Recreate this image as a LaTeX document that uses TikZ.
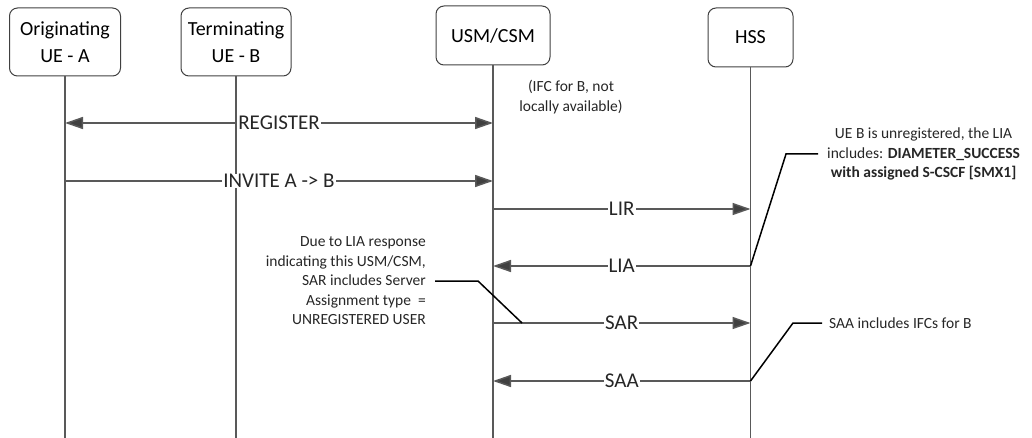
\documentclass[tikz,border=0pt]{standalone}
\usepackage{fontspec}
\setmainfont{Carlito}
\usetikzlibrary{arrows.meta}

\tikzset{
  >={Triangle[length=18pt,width=12pt,fill=black!75]},
  entity/.style={draw=black!75, line width=1pt, rounded corners=8pt, align=center,
    inner sep=0pt, font=\fontsize{20}{27}\selectfont},
  lifeline/.style={draw=black!65, line width=1.5pt},
  msg/.style={lifeline, ->},
  msglabel/.style={fill=white, inner xsep=1pt, inner ysep=0pt, text=black!85,
    font=\fontsize{21}{21}\selectfont},
  note/.style={inner sep=0pt, text=black!85, font=\fontsize{15.5}{19.5}\selectfont},
  leader/.style={draw=black, line width=1.5pt}
}

\begin{document}
\begin{tikzpicture}[x=1pt,y=-1pt]

	\useasboundingbox (0,0) rectangle (1032,438);

	% entities
	\node[entity, minimum width=111pt, minimum height=68pt] (ueA) at (65,42) {Originating\\UE - A};
	\node[entity, minimum width=110pt, minimum height=68pt] (ueB) at (236,42) {Terminating\\UE - B};
	\node[entity, minimum width=114pt, minimum height=59pt] (usm) at (493,35.5) {USM/CSM};
	\node[entity, minimum width=85pt, minimum height=59pt] (hss) at (750.5,37.5) {HSS};

	% lifelines
	\coordinate (ueA-end) at (ueA.south |- 0,438);
	\coordinate (ueB-end) at (ueB.south |- 0,438);
	\coordinate (usm-end) at (usm.south |- 0,438);
	\coordinate (hss-end) at (hss.south |- 0,438);
	\draw[lifeline] (ueA.south) -- (ueA-end);
	\draw[lifeline] (ueB.south) -- (ueB-end);
	\draw[lifeline] (usm.south) -- (usm-end);
	\draw[lifeline] (hss.south) -- (hss-end);

	% message ends
	\coordinate (ueA-reg) at (ueA.south |- 0,123);
	\coordinate (usm-reg) at (usm.south |- 0,123);
	\coordinate (ueA-inv) at (ueA.south |- 0,181);
	\coordinate (usm-inv) at (usm.south |- 0,181);
	\coordinate (usm-lir) at (usm.south |- 0,209);
	\coordinate (hss-lir) at (hss.south |- 0,209);
	\coordinate (usm-lia) at (usm.south |- 0,266);
	\coordinate (hss-lia) at (hss.south |- 0,266);
	\coordinate (usm-sar) at (usm.south |- 0,323);
	\coordinate (hss-sar) at (hss.south |- 0,323);
	\coordinate (usm-saa) at (usm.south |- 0,381);
	\coordinate (hss-saa) at (hss.south |- 0,381);

	% messages
	\draw[msg, <->] (ueA-reg) -- node[msglabel] {REGISTER} (usm-reg);
	\draw[msg] (ueA-inv) -- node[msglabel] {INVITE A -> B} (usm-inv);
	\draw[msg] (usm-lir) -- node[msglabel] {LIR} (hss-lir);
	\draw[msg] (hss-lia) -- node[msglabel] {LIA} (usm-lia);
	\draw[msg] (usm-sar) -- node[msglabel] {SAR} (hss-sar);
	\draw[msg] (hss-saa) -- node[msglabel] {SAA} (usm-saa);

	% notes
	\node[note, align=center] (ifcnote) at (571,97) {(IFC for B, not\\locally available)};

	\node[note, align=center, anchor=west, inner xsep=9pt] (lianote) at (818,154)
		{UE B is unregistered, the LIA\\includes: \textbf{DIAMETER\_SUCCESS}\\\textbf{with assigned S-CSCF [SMX1]}};
	\draw[leader] (hss-lia) -- (786,154) -- (lianote.west);

	\node[note, align=right, anchor=east, inner xsep=9pt] (sarnote) at (435,281)
		{Due to LIA response\\indicating this USM/CSM,\\SAR includes Server\\Assignment type\ \ =\\UNREGISTERED USER};
	\coordinate (sar-point) at (522,323);
	\draw[leader] (sarnote.east) -- (478,281) -- (sar-point);

	\node[note, anchor=west, inner xsep=7pt] (saanote) at (822,323) {SAA includes IFCs for B};
	\draw[leader] (hss-saa) -- (793,323) -- (saanote.west);

\end{tikzpicture}
\end{document}
